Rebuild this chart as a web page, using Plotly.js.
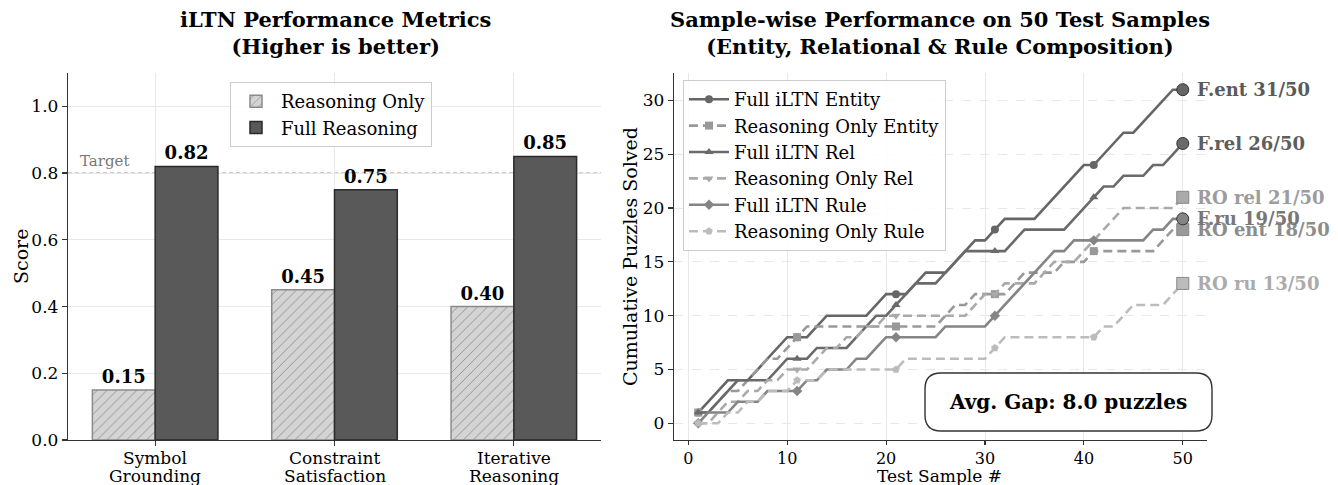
<!DOCTYPE html>
<html><head><meta charset="utf-8">
<script src="https://cdn.plot.ly/plotly-3.0.1.min.js"></script>
<style>html,body{margin:0;padding:0;background:#fff;}#chart{width:1338px;height:485px;}</style>
</head><body><div id="chart"></div>
<script>
// ---------- data ----------
const categories = ["Symbol<br>Grounding", "Constraint<br>Satisfaction", "Iterative<br>Reasoning"];
const reasoningOnly = [0.15, 0.45, 0.40];
const fullReasoning = [0.82, 0.75, 0.85];
const targetScore = 0.8;

const samples = [1,2,3,4,5,6,7,8,9,10,11,12,13,14,15,16,17,18,19,20,21,22,23,24,25,26,27,28,29,30,31,32,33,34,35,36,37,38,39,40,41,42,43,44,45,46,47,48,49,50];
const fullEnt  = [1,2,3,4,4,4,5,6,7,8, 8,8,9,10,10,10,10,10,11,12, 12,12,13,14,14,14,15,16,17,17, 18,19,19,19,19,20,21,22,23,24, 24,25,26,27,27,28,29,30,31,31];
const roEnt    = [1,1,2,3,3,4,5,6,6,7, 8,9,9,9,9,9,9,9,9,9, 9,9,9,9,9,10,11,11,12,12, 12,12,13,14,14,14,14,15,15,15, 16,16,16,16,16,16,16,17,18,18];
const fullRel  = [1,1,2,3,4,4,4,4,5,6, 6,6,7,7,7,7,8,9,10,10, 11,12,13,13,13,14,15,16,16,16, 16,16,17,18,18,18,18,18,19,20, 21,22,22,23,23,23,24,24,25,26];
const roRel    = [0,0,1,2,2,3,3,4,4,5, 5,5,6,7,7,8,8,9,9,10, 10,10,10,10,10,10,10,10,11,12, 12,13,13,13,13,14,15,15,15,16, 17,18,19,20,20,20,20,20,20,21];
const fullRule = [0,1,1,1,2,2,2,3,3,3, 3,4,4,5,5,5,6,6,7,8, 8,8,8,8,8,9,9,9,9,9, 10,11,12,13,14,15,16,16,17,17, 17,17,17,17,17,17,18,18,19,19];
const roRule   = [0,0,0,1,1,2,2,3,3,3, 4,4,4,5,5,5,5,5,5,5, 5,6,6,6,6,6,6,6,6,6, 7,8,8,8,8,8,8,8,8,8, 8,9,9,10,11,11,11,11,12,13];
const seriesNames = ["Full iLTN Entity","Reasoning Only Entity","Full iLTN Rel","Reasoning Only Rel","Full iLTN Rule","Reasoning Only Rule"];
const endLabels = ["F.ent","RO ent","F.rel","RO rel","F.ru","RO ru"];
const totalSamples = 50;
const avgGapText = "Avg. Gap: 8.0 puzzles";

// ---------- styling ----------
const W = 1338, H = 485;
const px = v => v / W, py = v => 1 - v / H;
const FONT = "DejaVu Serif, Liberation Serif, serif";
const series = [fullEnt, roEnt, fullRel, roRel, fullRule, roRule];
const colors = ["#666666", "#999999", "#6a6a6a", "#aaaaaa", "#858585", "#bcbcbc"];
const textColors = ["#5a5a5a", "#8c8c8c", "#5e5e5e", "#9c9c9c", "#777777", "#ababab"];
const symbols = ["circle", "square", "triangle-up", "triangle-down", "diamond", "pentagon"];
const dashed = [false, true, false, true, false, true];

const traces = [];
traces.push({
  type: "bar", x: [0,1,2], y: reasoningOnly, name: "Reasoning Only", xaxis: "x", yaxis: "y",
  marker: {color: "#d4d4d4", line: {color: "#8a8a8a", width: 1.5},
    pattern: {shape: "/", fgcolor: "#8a8a8a", bgcolor: "#d4d4d4", size: 7, solidity: 0.12}},
  text: reasoningOnly.map(v => "<b>" + v.toFixed(2) + "</b>"), textposition: "outside",
  textfont: {family: FONT, size: 18, color: "#000"}, cliponaxis: false, legend: "legend"
});
traces.push({
  type: "bar", x: [0,1,2], y: fullReasoning, name: "Full Reasoning", xaxis: "x", yaxis: "y",
  marker: {color: "#595959", line: {color: "#2a2a2a", width: 1.5}},
  text: fullReasoning.map(v => "<b>" + v.toFixed(2) + "</b>"), textposition: "outside",
  textfont: {family: FONT, size: 18, color: "#000"}, cliponaxis: false, legend: "legend"
});

const markIdx = [0, 10, 20, 30, 40];
series.forEach((s, i) => {
  const dash = dashed[i] ? "9px,5px" : "solid";
  traces.push({
    type: "scatter", mode: "lines", x: samples, y: s, xaxis: "x2", yaxis: "y2",
    line: {color: colors[i], width: 2.6, dash: dash}, showlegend: false, hoverinfo: "skip"
  });
  traces.push({
    type: "scatter", mode: "markers", x: markIdx.map(k => samples[k]), y: markIdx.map(k => s[k]),
    xaxis: "x2", yaxis: "y2", marker: {color: colors[i], size: 8, symbol: symbols[i]}, showlegend: false
  });
  traces.push({
    type: "scatter", mode: "markers", x: [samples[samples.length-1]], y: [s[s.length-1]],
    xaxis: "x2", yaxis: "y2", showlegend: false,
    marker: {color: colors[i], size: 12, symbol: dashed[i] ? "square" : "circle",
      line: {color: dashed[i] ? "#888" : "#333", width: 1}}
  });
  traces.push({
    type: "scatter", mode: "lines+markers", x: [null], y: [null], xaxis: "x2", yaxis: "y2",
    name: seriesNames[i], legend: "legend2", legendgroup: "g" + i,
    line: {color: colors[i], width: 2.6, dash: dash}, marker: {color: colors[i], size: 8, symbol: symbols[i]}
  });
});

const annotations = [
  {xref: "paper", yref: "paper", x: px(335), y: py(5), xanchor: "center", yanchor: "top", showarrow: false,
   text: "<b>iLTN Performance Metrics</b><br><b>(Higher is better)</b>", font: {family: FONT, size: 21, color: "#000"}},
  {xref: "paper", yref: "paper", x: px(940), y: py(5), xanchor: "center", yanchor: "top", showarrow: false,
   text: "<b>Sample-wise Performance on 50 Test Samples</b><br><b>(Entity, Relational &amp; Rule Composition)</b>", font: {family: FONT, size: 21, color: "#000"}},
  {xref: "paper", yref: "paper", x: px(21), y: py(257), xanchor: "center", yanchor: "middle", textangle: -90, showarrow: false,
   text: "Score", font: {family: FONT, size: 19, color: "#000"}},
  {xref: "paper", yref: "paper", x: px(630), y: py(257), xanchor: "center", yanchor: "middle", textangle: -90, showarrow: false,
   text: "Cumulative Puzzles Solved", font: {family: FONT, size: 19, color: "#000"}},
  {xref: "paper", yref: "paper", x: px(940), y: py(476), xanchor: "center", yanchor: "middle", showarrow: false,
   text: "Test Sample #", font: {family: FONT, size: 17, color: "#000"}},
  {xref: "x", yref: "y", x: -0.43, y: targetScore, xanchor: "left", yanchor: "bottom", yshift: 1, showarrow: false,
   text: "Target", font: {family: FONT, size: 15, color: "#777"}},
  {xref: "paper", yref: "paper", x: px(1068), y: py(402), xanchor: "center", yanchor: "middle", showarrow: false,
   text: "<b>" + avgGapText + "</b>", font: {family: FONT, size: 20, color: "#000"}}
];
// category tick labels (two lines each, tight spacing like the reference)
categories.forEach((c, k) => {
  c.split("<br>").forEach((line, j) => {
    annotations.push({xref: "x", yref: "paper", x: k, y: py(458 + 18 * j), xanchor: "center", yanchor: "middle",
      showarrow: false, text: line, font: {family: FONT, size: 17, color: "#000"}});
  });
});
series.forEach((s, i) => {
  annotations.push({xref: "x2", yref: "y2", x: samples[samples.length-1], y: s[s.length-1], xanchor: "left", yanchor: "middle", xshift: 12,
    showarrow: false, text: "<b>" + endLabels[i] + " " + s[s.length-1] + "/" + totalSamples + "</b>",
    font: {family: FONT, size: 18, color: textColors[i]}});
});

// rounded box
function roundRect(x0, y0, x1, y1, r) {
  const X = v => px(v), Y = v => py(v);
  return `M ${X(x0+r)},${Y(y0)} L ${X(x1-r)},${Y(y0)} Q ${X(x1)},${Y(y0)} ${X(x1)},${Y(y0+r)} ` +
         `L ${X(x1)},${Y(y1-r)} Q ${X(x1)},${Y(y1)} ${X(x1-r)},${Y(y1)} L ${X(x0+r)},${Y(y1)} ` +
         `Q ${X(x0)},${Y(y1)} ${X(x0)},${Y(y1-r)} L ${X(x0)},${Y(y0+r)} Q ${X(x0)},${Y(y0)} ${X(x0+r)},${Y(y0)} Z`;
}

const shapes = [
  {type: "line", xref: "x domain", yref: "y", x0: 0, x1: 1, y0: targetScore, y1: targetScore,
   line: {color: "#999", width: 1.2, dash: "4px,3px"}, layer: "below"},
  {type: "path", xref: "paper", yref: "paper", path: roundRect(925, 373, 1212, 431, 16),
   fillcolor: "#ffffff", line: {color: "#333", width: 1.4}, layer: "above"}
];

const axisCommon = {showline: true, linecolor: "#333", linewidth: 1.2, ticks: "outside", ticklen: 5, tickwidth: 1.2,
  tickcolor: "#333", zeroline: false, gridcolor: "#e8e8e8", gridwidth: 1, tickfont: {family: FONT, size: 17, color: "#000"}};

const layout = {
  width: W, height: H, margin: {l: 0, r: 0, t: 0, b: 0}, paper_bgcolor: "#fff", plot_bgcolor: "#fff",
  font: {family: FONT, color: "#000"},
  barmode: "group", bargap: 0.3, bargroupgap: 0,
  xaxis: Object.assign({}, axisCommon, {domain: [px(68), px(601)], range: [-0.486, 2.486], tickvals: [0,1,2], showticklabels: false, anchor: "y", showgrid: true}),
  yaxis: Object.assign({}, axisCommon, {domain: [py(440), py(73)], range: [0, 1.1], tickvals: [0,0.2,0.4,0.6,0.8,1.0], tickformat: ".1f", anchor: "x", showgrid: true}),
  xaxis2: Object.assign({}, axisCommon, {domain: [px(674), px(1207)], range: [-1.45, 52.45], tickvals: [0,10,20,30,40,50], anchor: "y2", showgrid: true,
    ticklen: 4, tickfont: {family: FONT, size: 16, color: "#000"}}),
  yaxis2: Object.assign({}, axisCommon, {domain: [py(440), py(73)], range: [-1.55, 32.55], tickvals: [0,5,10,15,20,25,30], anchor: "x2", showgrid: true, griddash: "dash"}),
  legend: {x: px(230), y: py(82), xanchor: "left", yanchor: "top", bgcolor: "rgba(255,255,255,0.85)", bordercolor: "#cccccc", borderwidth: 1,
    font: {family: FONT, size: 18, color: "#000"}, itemwidth: 40, tracegroupgap: 0},
  legend2: {x: px(683), y: py(80), xanchor: "left", yanchor: "top", bgcolor: "rgba(255,255,255,0.85)", bordercolor: "#cccccc", borderwidth: 1,
    font: {family: FONT, size: 18, color: "#000"}, itemwidth: 40, tracegroupgap: 0},
  annotations: annotations, shapes: shapes, showlegend: true
};

Plotly.newPlot("chart", traces, layout, {staticPlot: true, displayModeBar: false});
</script></body></html>
